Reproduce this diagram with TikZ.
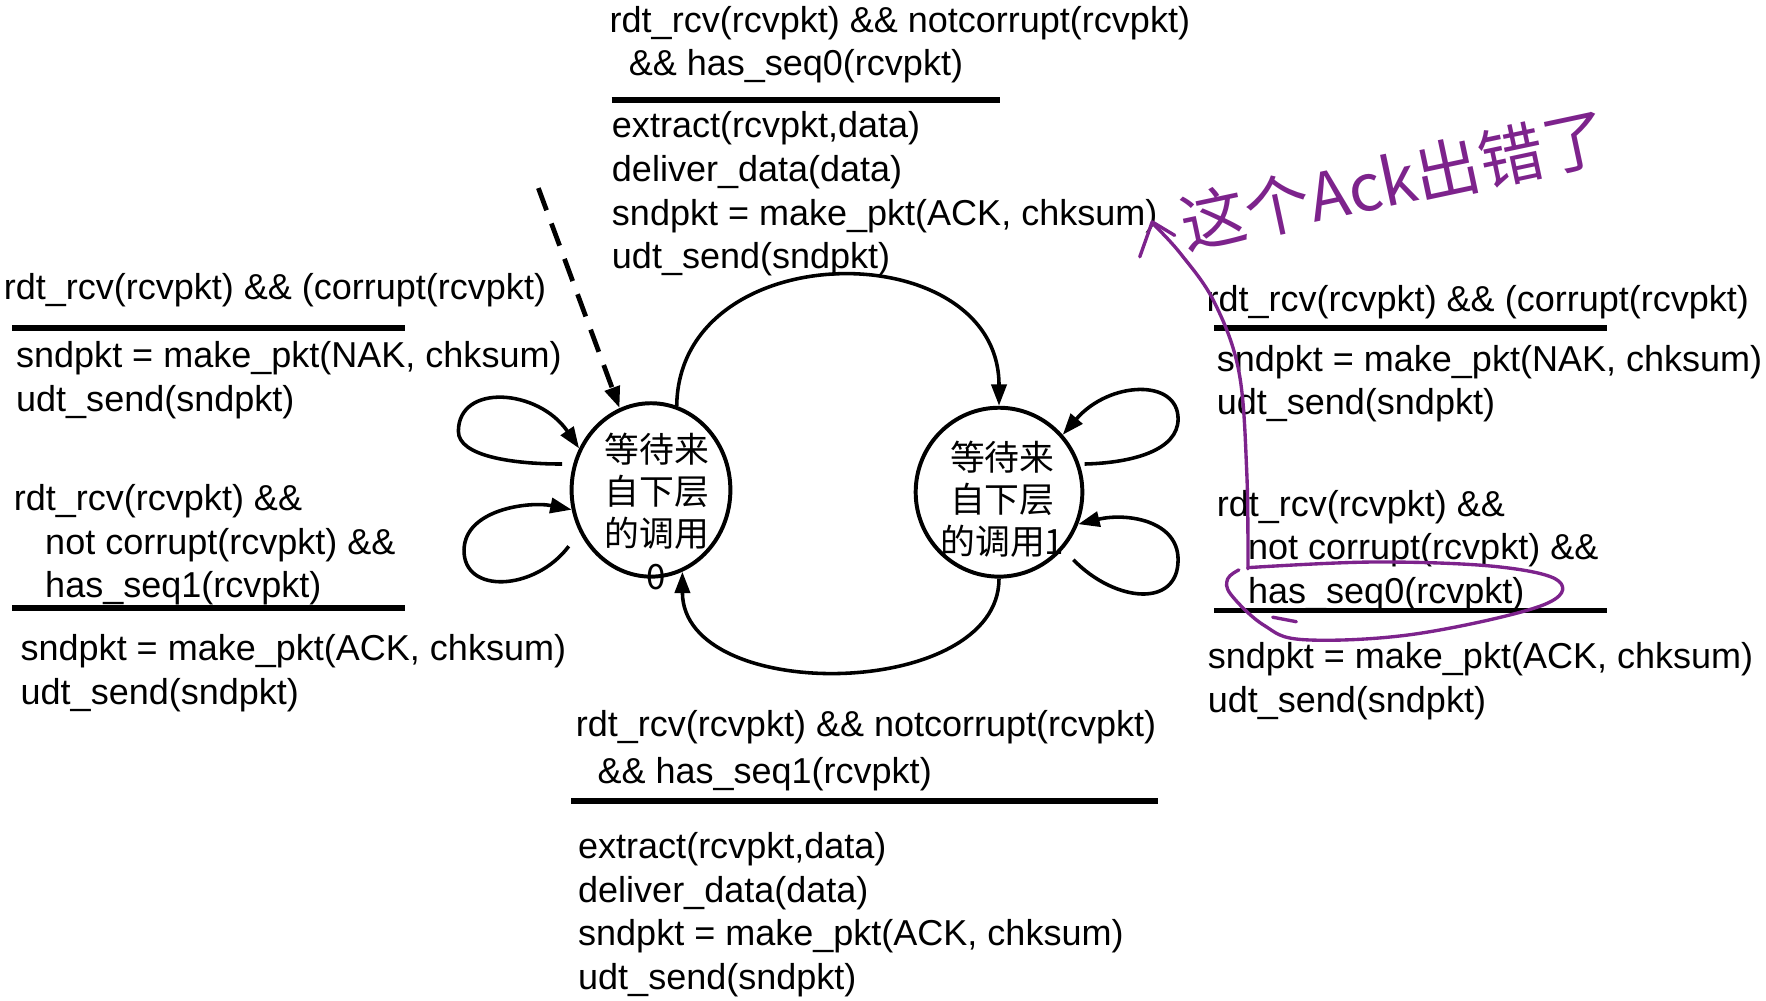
\documentclass[tikz,border=0pt]{standalone}
\usepackage{fontspec}
\setmainfont{Liberation Sans}
\newfontfamily\cjk{Noto Sans CJK SC}
\usetikzlibrary{arrows.meta,shapes.geometric}
\definecolor{pen}{RGB}{125,35,140}
\begin{document}
\begin{tikzpicture}[x=0.02cm,y=-0.02cm,
  txt/.style={anchor=north west,inner sep=0pt,align=left,font=\fontsize{18.2}{22}\selectfont},
  rulebar/.style={line width=2.8pt},
  stnode/.style={ellipse,draw,line width=2pt,inner sep=0pt},
  sttext/.style={inner sep=0pt,align=center,font=\cjk\fontsize{17.6}{21.3}\selectfont},
  arr/.style={line width=1.8pt,-{Triangle[length=0.38cm,width=0.27cm]}},
  ink/.style={draw=pen,line width=1.7pt,line cap=round,line join=round}]
\useasboundingbox (0,0) rectangle (1568,888);

% states
\node[stnode,minimum width=2.82cm,minimum height=3.08cm] (s0) at (578,435) {};
\node[stnode,minimum width=2.96cm,minimum height=3.0cm] (s1) at (887,437) {};
\node[sttext] (s0t) at (583,454) {等待来\\自下层\\的调用\\0};
\node[sttext] (s1t) at (890,443) {等待来\\自下层\\的调用1};

% top transition text
\node[txt] (tg) at (541,5) {rdt\_rcv(rcvpkt) \&\& notcorrupt(rcvpkt)\\\hspace*{0.53em}\&\& has\_seq0(rcvpkt)};
\draw[rulebar] (543,89) -- (888,89);
\node[txt] (ta) at (543,99) {extract(rcvpkt,data)\\deliver\_data(data)\\sndpkt = make\_pkt(ACK, chksum)\\udt\_send(sndpkt)};

% left blocks
\node[txt] (l1g) at (3,242) {rdt\_rcv(rcvpkt) \&\& (corrupt(rcvpkt)};
\draw[rulebar] (11,291) -- (360,291);
\node[txt] (l1a) at (14,303) {sndpkt = make\_pkt(NAK, chksum)\\udt\_send(sndpkt)};
\node[txt] (l2g) at (12,430) {rdt\_rcv(rcvpkt) \&\&\\\hspace*{0.87em}not corrupt(rcvpkt) \&\&\\\hspace*{0.87em}has\_seq1(rcvpkt)};
\draw[rulebar] (11,540) -- (360,540);
\node[txt] (l2a) at (18,563) {sndpkt = make\_pkt(ACK, chksum)\\udt\_send(sndpkt)};

% right blocks
\node[txt] (r1g) at (1071,253) {rdt\_rcv(rcvpkt) \&\& (corrupt(rcvpkt)};
\draw[rulebar] (1078,291) -- (1427,291);
\node[txt] (r1a) at (1080,306) {sndpkt = make\_pkt(NAK, chksum)\\udt\_send(sndpkt)};
\node[txt] (r2g) at (1080,435) {rdt\_rcv(rcvpkt) \&\&\\\hspace*{0.87em}not corrupt(rcvpkt) \&\&\\\hspace*{0.87em}has\_seq0(rcvpkt)};
\draw[rulebar] (1078,542) -- (1427,542);
\node[txt] (r2a) at (1072,570) {sndpkt = make\_pkt(ACK, chksum)\\udt\_send(sndpkt)};

% bottom block
\node[txt,font=\fontsize{18.2}{23.9}\selectfont] (bg) at (511,630) {rdt\_rcv(rcvpkt) \&\& notcorrupt(rcvpkt)\\\hspace*{0.6em}\&\& has\_seq1(rcvpkt)};
\draw[rulebar] (507,711) -- (1028,711);
\node[txt] (ba) at (513,739) {extract(rcvpkt,data)\\deliver\_data(data)\\sndpkt = make\_pkt(ACK, chksum)\\udt\_send(sndpkt)};

% free ends
\coordinate (init) at (478,167);
\coordinate (t0a) at (499,412);
\coordinate (t0b) at (505,485);
\coordinate (t1a) at (963,412);
\coordinate (t1b) at (953,497);

% initial dashed arrow
\draw[line width=2.4pt,dash pattern=on 0.42cm off 0.25cm,-{Triangle[length=0.38cm,width=0.27cm]}] (init) -- (s0.111);

% transitions between states
\draw[arr] (s0.73) .. controls (603,207) and (887,207) .. (s1.north);
\draw[arr] (s1.south) .. controls (887,622) and (606,626) .. (s0.-69);

% self loops state 0
\draw[arr] (t0a) .. controls (455,412) and (407,405) .. (407,383) .. controls (407,340) and (478,345) .. (s0.150);
\draw[arr] (t0b) .. controls (475,525) and (411,528) .. (412,488) .. controls (413,452) and (470,445) .. (s0.194);

% self loops state 1
\draw[arr] (t1a) .. controls (1005,411) and (1046,400) .. (1046,372) .. controls (1046,336) and (985,338) .. (s1.42);
\draw[arr] (t1b) .. controls (990,535) and (1046,540) .. (1046,497) .. controls (1046,462) and (1000,455) .. (s1.-22);

% handwritten annotation
\node[pen,rotate=12,inner sep=0pt,font=\cjk\fontsize{33}{34}\selectfont] (note) at (1238,160) {这个Ack出错了};
\draw[ink] plot[smooth,tension=0.6] coordinates {(1108,505) (1107,420) (1100,330) (1078,268) (1048,225) (1024,199)};
\draw[ink] (1012,228) -- (1023,197) -- (1043,209);
\draw[ink] plot[smooth,tension=0.6] coordinates {(1108,504) (1220,499) (1328,503) (1384,516) (1368,538) (1256,563) (1158,568) (1122,555) (1093,528) (1090,514) (1100,506)};
\draw[ink] (1130,548) -- (1151,552);
\end{tikzpicture}
\end{document}
